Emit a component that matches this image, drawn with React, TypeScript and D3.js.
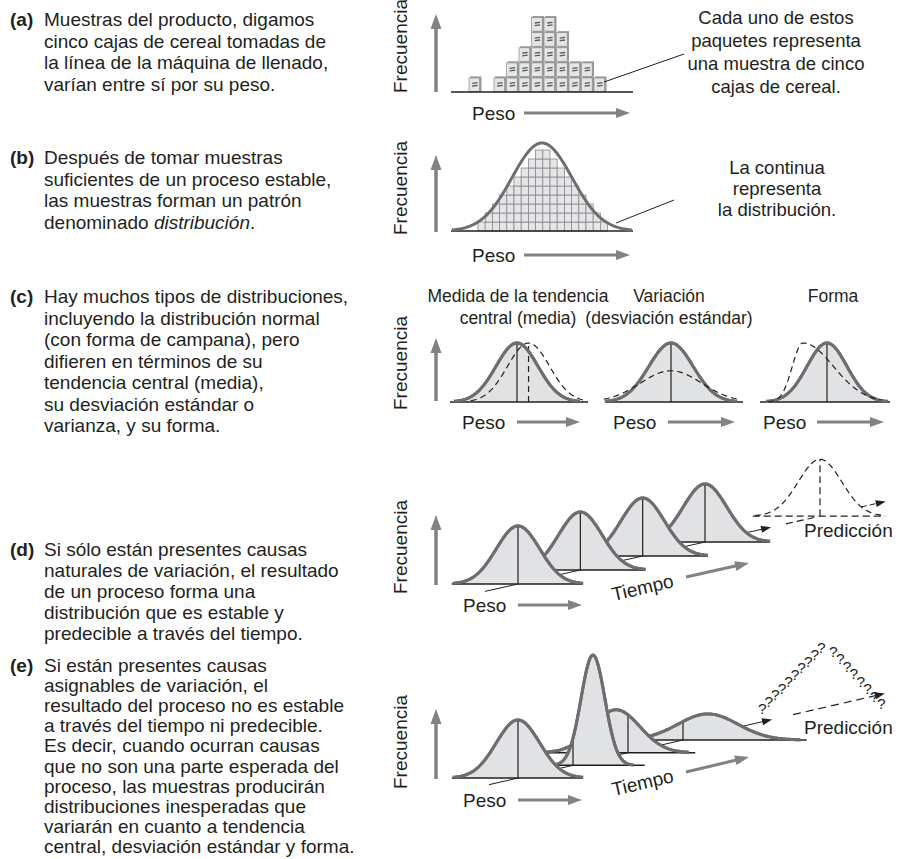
import React from 'react';
import * as d3 from 'd3';

const FONT = '"Liberation Sans", Arial, Helvetica, sans-serif';
const INK = '#231f20';
const CURVE = '#6d6e71';
const FILL = '#e1e2e3';
const ARROW = '#808285';

// ---- left column text ----
const paraLabels = ['(a)', '(b)', '(c)', '(d)', '(e)'];
const paraA = [
  'Muestras del producto, digamos',
  'cinco cajas de cereal tomadas de',
  'la línea de la máquina de llenado,',
  'varían entre sí por su peso.',
];
const paraB = [
  'Después de tomar muestras',
  'suficientes de un proceso estable,',
  'las muestras forman un patrón',
  'denominado _distribución_.',
];
const paraC = [
  'Hay muchos tipos de distribuciones,',
  'incluyendo la distribución normal',
  '(con forma de campana), pero',
  'difieren en términos de su',
  'tendencia central (media),',
  'su desviación estándar o',
  'varianza, y su forma.',
];
const paraD = [
  'Si sólo están presentes causas',
  'naturales de variación, el resultado',
  'de un proceso forma una',
  'distribución que es estable y',
  'predecible a través del tiempo.',
];
const paraE = [
  'Si están presentes causas',
  'asignables de variación, el',
  'resultado del proceso no es estable',
  'a través del tiempo ni predecible.',
  'Es decir, cuando ocurran causas',
  'que no son una parte esperada del',
  'proceso, las muestras producirán',
  'distribuciones inesperadas que',
  'variarán en cuanto a tendencia',
  'central, desviación estándar y forma.',
];
const paragraphs = [paraA, paraB, paraC, paraD, paraE];
const paraBaselines = [26, 164, 303, 556, 672];
const paraLeading = [21.5, 21.5, 21.5, 21, 20.1];

// ---- panel (a): cereal packages stacked per weight bin ----
const boxCounts = [1, 0, 1, 2, 3, 5, 5, 4, 2, 2, 1];
const calloutA = ['Cada uno de estos', 'paquetes representa', 'una muestra de cinco', 'cajas de cereal.'];

// ---- panel (b): histogram under the distribution ----
const histCounts = [1, 2, 3, 4, 5, 6, 7, 8, 9, 9, 8, 7, 6, 5, 4, 3, 2, 1];
const calloutB = ['La continua', 'representa', 'la distribución.'];

// ---- panel (c) ----
const titlesC = [
  ['Medida de la tendencia', 'central (media)'],
  ['Variación', '(desviación estándar)'],
  ['Forma'],
];
type Bell = { mu: number; sd: number; h: number; lo: number; hi: number; sdL?: number; sdR?: number };
const solidC: Bell[] = [
  { mu: 0, sd: 1, h: 1, lo: -3, hi: 3 },
  { mu: 0, sd: 1.05, h: 1, lo: -3.15, hi: 3.15 },
  { mu: 0, sd: 0.95, h: 1, lo: -2.9, hi: 2.9 },
];
const dashedC: Bell[] = [
  { mu: 0.55, sd: 1, h: 1, lo: -2.2, hi: 3.3 },
  { mu: 0, sd: 1.45, h: 0.53, lo: -3.2, hi: 3.2 },
  { mu: -1.15, sd: 1, sdL: 0.5, sdR: 1.45, h: 1, lo: -2.8, hi: 2.6 },
];

// ---- panel (d): stable process over time ----
const stableD: Bell[] = [0, 1, 2, 3].map(() => ({ mu: 0, sd: 1, h: 1, lo: -3, hi: 3 }));
const predictionD: Bell = { mu: 0, sd: 1, h: 0.98, lo: -3, hi: 3 };

// ---- panel (e): unstable process over time ----
const unstableE: Bell[] = [
  { mu: 0, sd: 1, h: 1, lo: -3, hi: 3 },
  { mu: 0.92, sd: 0.55, h: 1.9, lo: -0.95, hi: 2.8 },
  { mu: -0.55, sd: 1.1, h: 0.74, lo: -3.9, hi: 2.8 },
  { mu: 1.15, sd: 1.38, h: 0.45, lo: -3.0, hi: 5.4 },
];
const baseExtentE = [[-3.05, 3], [-1.2, 3.3], [-3.9, 3.1], [-3.4, 5.7]];
const qLeftCount = 10;
const qRightCount = 8;

const bellY = (z: number, c: Bell) => {
  const s = z < c.mu ? c.sdL ?? c.sd : c.sdR ?? c.sd;
  return c.h * Math.exp(-0.5 * ((z - c.mu) / s) ** 2);
};
const sample = (c: Bell) =>
  d3.range(0, 121).map((k) => {
    const z = c.lo + ((c.hi - c.lo) * k) / 120;
    return [z, bellY(z, c)] as [number, number];
  });

type Sc = d3.ScaleLinear<number, number>;

const BellPath = ({ c, x, y, dashed = false, fill = false }: { c: Bell; x: Sc; y: Sc; dashed?: boolean; fill?: boolean }) => {
  const pts = sample(c);
  const area = d3.area<[number, number]>().x((d) => x(d[0])).y0(y(0)).y1((d) => y(d[1]));
  const line = d3.line<[number, number]>().x((d) => x(d[0])).y((d) => y(d[1]));
  return (
    <g>
      {fill && <path d={area(pts) || ''} fill={FILL} />}
      <path
        d={line(pts) || ''}
        fill="none"
        stroke={dashed ? INK : CURVE}
        strokeWidth={dashed ? 1.2 : 3}
        strokeDasharray={dashed ? '6 4' : undefined}
      />
    </g>
  );
};

const Arrow = ({ x1, y1, x2, y2, w = 3.5, head = 15, hw = 5.5, color = ARROW, dash }: any) => {
  const a = Math.atan2(y2 - y1, x2 - x1);
  const bx = x2 - head * Math.cos(a);
  const by = y2 - head * Math.sin(a);
  const px = -Math.sin(a) * hw;
  const py = Math.cos(a) * hw;
  return (
    <g>
      <line x1={x1} y1={y1} x2={bx + Math.cos(a)} y2={by + Math.sin(a)} stroke={color} strokeWidth={w} strokeDasharray={dash} />
      <polygon points={`${x2},${y2} ${bx + px},${by + py} ${bx - px},${by - py}`} fill={color} />
    </g>
  );
};

const Freq = ({ cy }: { cy: number }) => (
  <text transform={`translate(407,${cy}) rotate(-90)`} textAnchor="middle" fontSize={19} fill={INK}>
    Frecuencia
  </text>
);

const Peso = ({ x, y, a0, a1 }: { x: number; y: number; a0: number; a1: number }) => (
  <g>
    <text x={x} y={y + 6.8} fontSize={19} fill={INK}>Peso</text>
    <Arrow x1={a0} y1={y} x2={a1} y2={y} w={3} head={14} hw={5} />
  </g>
);

const LeftText = () => (
  <g fill={INK} fontSize={19}>
    {paragraphs.map((lines, p) => (
      <g key={p}>
        <text x={10} y={paraBaselines[p]} fontWeight="bold">{paraLabels[p]}</text>
        {lines.map((ln, i) => {
          const parts = ln.split('_');
          return (
            <text key={i} x={44} y={paraBaselines[p] + i * paraLeading[p]}>
              {parts.map((s, k) => (
                <tspan key={k} fontStyle={k % 2 ? 'italic' : 'normal'}>{s}</tspan>
              ))}
            </text>
          );
        })}
      </g>
    ))}
  </g>
);

const PanelA = () => {
  const bx = d3.scaleLinear().domain([0, boxCounts.length]).range([469, 606.5]);
  const by = d3.scaleLinear().domain([0, 5]).range([91.5, 16]);
  const boxes = boxCounts.flatMap((n, i) => d3.range(n).map((j) => ({ i, j })));
  return (
    <g>
      <Freq cy={46} />
      <Arrow x1={436} y1={92} x2={436} y2={14} w={3.5} head={15} hw={5.5} />
      {boxes.map(({ i, j }) => {
        const x0 = bx(i), x1 = bx(i + 1), y0 = by(j + 1), y1 = by(j);
        return (
          <g key={`${i}-${j}`}>
            <rect x={x0 + 1} y={y0} width={x1 - x0 - 1} height={y1 - y0} fill="#9a9b9d" />
            <rect x={x0} y={y0 + 1.6} width={x1 - x0 - 1.8} height={y1 - y0 - 1.6} fill="#e4e5e6" stroke="#8a8b8d" strokeWidth={0.7} />
            <line x1={x0 + 3.2} y1={y0 + 7} x2={x0 + 8.6} y2={y0 + 6.3} stroke="#58595b" strokeWidth={1.3} />
            <line x1={x0 + 3.2} y1={y0 + 9.6} x2={x0 + 8.6} y2={y0 + 8.9} stroke="#58595b" strokeWidth={1.3} />
          </g>
        );
      })}
      <line x1={451} y1={92} x2={633} y2={92} stroke={INK} strokeWidth={1.5} />
      <line x1={604} y1={82} x2={684} y2={54} stroke={INK} strokeWidth={1} />
      {calloutA.map((t, i) => (
        <text key={i} x={776} y={24 + i * 23} textAnchor="middle" fontSize={18.5} fill={INK}>{t}</text>
      ))}
      <Peso x={472} y={113} a0={524} a1={630} />
    </g>
  );
};

const PanelB = () => {
  const hx = d3.scaleLinear().domain([0, histCounts.length]).range([478, 607.6]);
  const hy = d3.scaleLinear().domain([0, 9]).range([231, 150]);
  const x = d3.scaleLinear().domain([-3, 3]).range([452, 632]);
  const y = d3.scaleLinear().domain([0, 1]).range([231, 143]);
  const cells = histCounts.flatMap((n, i) => d3.range(n).map((j) => ({ i, j })));
  return (
    <g>
      <Freq cy={188} />
      <Arrow x1={436} y1={232} x2={436} y2={155} />
      {cells.map(({ i, j }) => (
        <rect key={`${i}-${j}`} x={hx(i)} y={hy(j + 1)} width={hx(i + 1) - hx(i)} height={hy(j) - hy(j + 1)} fill="#e4e5e6" stroke="#8a8b8d" strokeWidth={0.8} />
      ))}
      <line x1={451} y1={231} x2={633} y2={231} stroke={INK} strokeWidth={1.5} />
      <BellPath c={{ mu: 0, sd: 1, h: 1, lo: -3, hi: 3 }} x={x} y={y} />
      <line x1={616} y1={223} x2={674} y2={200} stroke={INK} strokeWidth={1} />
      {calloutB.map((t, i) => (
        <text key={i} x={777} y={174 + i * 21} textAnchor="middle" fontSize={18.5} fill={INK}>{t}</text>
      ))}
      <Peso x={472} y={255} a0={524} a1={630} />
    </g>
  );
};

const centersC = [517, 671, 827];
const basesC = [[450, 588], [605, 743], [760, 890]];
const pesoC = [[462, 517, 580], [613, 668, 735], [763, 817, 884]];

const PanelC = () => (
  <g>
    {titlesC.map((lines, k) =>
      lines.map((t, i) => (
        <text key={`${k}-${i}`} x={[518, 669, 833][k]} y={302 + i * 22} textAnchor="middle" fontSize={17.5} fill={INK}>{t}</text>
      ))
    )}
    <Freq cy={363} />
    <Arrow x1={436} y1={401} x2={436} y2={338} />
    {centersC.map((cx, k) => {
      const x = d3.scaleLinear().domain([0, 1]).range([cx, cx + 21]);
      const y = d3.scaleLinear().domain([0, 1]).range([402, 343]);
      const s = solidC[k];
      const dsh = dashedC[k];
      return (
        <g key={k}>
          <BellPath c={s} x={x} y={y} fill />
          <line x1={basesC[k][0]} y1={402} x2={basesC[k][1]} y2={402} stroke={INK} strokeWidth={1.5} />
          <line x1={cx} y1={402} x2={cx} y2={y(1)} stroke={INK} strokeWidth={1.2} />
          {k === 0 && <line x1={x(dsh.mu)} y1={402} x2={x(dsh.mu)} y2={y(1)} stroke={INK} strokeWidth={1.2} strokeDasharray="6 4" />}
          <BellPath c={s} x={x} y={y} />
          <BellPath c={dsh} x={x} y={y} dashed />
          <Peso x={pesoC[k][0]} y={422} a0={pesoC[k][1]} a1={pesoC[k][2]} />
        </g>
      );
    })}
  </g>
);

const UNIT_X = 21.7;
const UNIT_Y = 58;

const TimeCurve = ({ c, fx, fy, ext }: { c: Bell; fx: number; fy: number; ext: number[] }) => {
  const x = d3.scaleLinear().domain([0, 1]).range([fx, fx + UNIT_X]);
  const y = d3.scaleLinear().domain([0, 1]).range([fy, fy - UNIT_Y]);
  return (
    <g>
      <BellPath c={c} x={x} y={y} fill />
      <line x1={x(ext[0])} y1={fy} x2={x(ext[1])} y2={fy} stroke={INK} strokeWidth={1.5} />
      <line x1={fx} y1={fy} x2={fx} y2={y(bellY(0, c))} stroke={INK} strokeWidth={1.2} />
      <BellPath c={c} x={x} y={y} />
    </g>
  );
};

const PanelD = () => {
  const tx = d3.scaleLinear().domain([0, 3]).range([518, 705]);
  const ty = d3.scaleLinear().domain([0, 3]).range([584, 542]);
  const tp = 4.845;
  const px = d3.scaleLinear().domain([0, 1]).range([tx(tp), tx(tp) + UNIT_X]);
  const py = d3.scaleLinear().domain([0, 1]).range([ty(tp), ty(tp) - UNIT_Y]);
  return (
    <g>
      <Freq cy={547} />
      <Arrow x1={436} y1={585} x2={436} y2={515} />
      <line x1={tx(-0.53)} y1={ty(-0.53)} x2={tx(3)} y2={ty(3)} stroke={INK} strokeWidth={1} />
      <Arrow x1={tx(3)} y1={ty(3)} x2={tx(4.06)} y2={ty(4.06)} w={1} head={10} hw={3.5} color={INK} />
      {[3, 2, 1, 0].map((t) => (
        <TimeCurve key={t} c={stableD[t]} fx={tx(t)} fy={ty(t)} ext={[-3.05, 3]} />
      ))}
      {/* prediction */}
      <line x1={tx(4.3)} y1={ty(4.3)} x2={tx(4.75)} y2={ty(4.75)} stroke={INK} strokeWidth={1.2} strokeDasharray="7 4" />
      <line x1={px(-3.1)} y1={ty(tp)} x2={px(3)} y2={ty(tp)} stroke={INK} strokeWidth={1.2} strokeDasharray="7 4" />
      <line x1={px(0)} y1={ty(tp)} x2={px(0)} y2={py(predictionD.h)} stroke={INK} strokeWidth={1.2} strokeDasharray="7 4" />
      <BellPath c={predictionD} x={px} y={py} dashed />
      <Arrow x1={tx(5.5)} y1={ty(5.5)} x2={tx(5.9)} y2={ty(5.9)} w={1} head={10} hw={3.5} color={INK} dash="6 3" />
      <text x={804} y={537} fontSize={19} fill={INK}>Predicción</text>
      <Peso x={463} y={605} a0={518} a1={582} />
      <text transform="translate(644,594) rotate(-13)" textAnchor="middle" fontSize={19} fill={INK}>Tiempo</text>
      <Arrow x1={686} y1={577} x2={749} y2={563} w={3} head={14} hw={5} />
    </g>
  );
};

const PanelE = () => {
  const tx = d3.scaleLinear().domain([0, 3]).range([518, 683]);
  const ty = d3.scaleLinear().domain([0, 3]).range([778, 740]);
  const left = d3.scaleLinear().domain([0, qLeftCount - 1]);
  const right = d3.scaleLinear().domain([0, qRightCount - 1]);
  const qs = [
    ...d3.range(qLeftCount).map((i) => [left.range([762, 821])(i), left.range([714, 653])(i)]),
    ...d3.range(qRightCount).map((i) => [right.range([833, 881])(i), right.range([657, 709])(i)]),
  ];
  // one text run, each "?" placed individually along the two legs
  const qx = qs.map((d) => (d[0] - 4).toFixed(1)).join(' ');
  const qy = qs.map((d) => d[1].toFixed(1)).join(' ');
  return (
    <g>
      <Freq cy={742} />
      <Arrow x1={436} y1={779} x2={436} y2={709} />
      <line x1={tx(-0.53)} y1={ty(-0.53)} x2={tx(3)} y2={ty(3)} stroke={INK} strokeWidth={1} />
      <Arrow x1={tx(3)} y1={ty(3)} x2={tx(4.62)} y2={ty(4.62)} w={1} head={10} hw={3.5} color={INK} />
      {[3, 2, 1, 0].map((t) => (
        <TimeCurve key={t} c={unstableE[t]} fx={tx(t)} fy={ty(t)} ext={baseExtentE[t]} />
      ))}
      <Arrow x1={tx(5.0)} y1={ty(5.0)} x2={tx(6.67)} y2={ty(6.67)} w={1.2} head={10} hw={3.5} color={INK} dash="8 5" />
      <text x={qx} y={qy} fontSize={15.5} fill={INK}>{'?'.repeat(qs.length)}</text>
      <text x={804} y={734} fontSize={19} fill={INK}>Predicción</text>
      <Peso x={463} y={800} a0={518} a1={582} />
      <text transform="translate(644,789) rotate(-13)" textAnchor="middle" fontSize={19} fill={INK}>Tiempo</text>
      <Arrow x1={686} y1={772} x2={749} y2={757} w={3} head={14} hw={5} />
    </g>
  );
};

export default function App() {
  return (
    <svg
      width={899}
      height={859}
      style={{ position: 'absolute', left: 0, top: 0, background: '#fff' }}
      fontFamily={FONT}
    >
      <LeftText />
      <PanelA />
      <PanelB />
      <PanelC />
      <PanelD />
      <PanelE />
    </svg>
  );
}
